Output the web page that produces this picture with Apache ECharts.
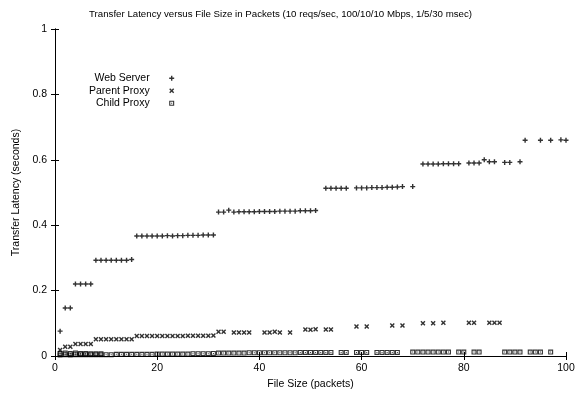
<!DOCTYPE html>
<html>
<head>
<meta charset="utf-8">
<title>Transfer Latency versus File Size</title>
<script src="https://cdn.jsdelivr.net/npm/echarts@6/dist/echarts.min.js"></script>
<style>
  html, body { margin: 0; padding: 0; background: #fff; }
  #chart { width: 580px; height: 401px; }
</style>
</head>
<body>
<div id="chart"></div>
<script>
// Transfer latency (seconds) against file size (packets), one array pair per series.
const webServerSize = [1, 2, 3, 4, 5, 6, 7, 8, 9, 10, 11, 12, 13, 14, 15,
  16, 17, 18, 19, 20, 21, 22, 23, 24, 25, 26, 27, 28, 29, 30, 31,
  32, 33, 34, 35, 36, 37, 38, 39, 40, 41, 42, 43, 44, 45, 46, 47, 48, 49, 50, 51,
  53, 54, 55, 56, 57, 59, 60, 61, 62, 63, 64, 65, 66, 67, 68, 70,
  72, 73, 74, 75, 76, 77, 78, 79, 81, 82, 83, 84, 85, 86, 88, 89, 91,
  92, 95, 97, 99, 100];
const webServerLatency = [0.076, 0.147, 0.147, 0.22, 0.22, 0.22, 0.22,
  0.293, 0.293, 0.293, 0.293, 0.293, 0.293, 0.293, 0.295,
  0.367, 0.367, 0.367, 0.367, 0.367, 0.367, 0.368, 0.367, 0.368, 0.368, 0.369, 0.369, 0.369, 0.37, 0.37, 0.37,
  0.44, 0.44, 0.446, 0.44, 0.441, 0.441, 0.441, 0.441, 0.442, 0.442, 0.442, 0.442, 0.443, 0.443, 0.443, 0.443, 0.444, 0.444, 0.444, 0.445,
  0.513, 0.513, 0.513, 0.513, 0.513, 0.514, 0.514, 0.514, 0.515, 0.515, 0.515, 0.516, 0.516, 0.517, 0.518, 0.518,
  0.587, 0.587, 0.587, 0.587, 0.588, 0.588, 0.588, 0.588, 0.59, 0.59, 0.59, 0.6, 0.594, 0.594, 0.592, 0.592, 0.594,
  0.66, 0.66, 0.66, 0.661, 0.66];

const parentProxySize = [1, 2, 3, 4, 5, 6, 7, 8, 9, 10, 11, 12, 13, 14, 15,
  16, 17, 18, 19, 20, 21, 22, 23, 24, 25, 26, 27, 28, 29, 30, 31,
  32, 33, 35, 36, 37, 38, 41, 42, 43, 44, 46, 49, 50, 51, 53, 54,
  59, 61, 66, 68, 72, 74, 76, 81, 82, 85, 86, 87];
const parentProxyLatency = [0.018, 0.028, 0.028, 0.037, 0.037, 0.037, 0.037,
  0.051, 0.051, 0.051, 0.051, 0.051, 0.051, 0.051, 0.051,
  0.061, 0.061, 0.061, 0.061, 0.061, 0.061, 0.061, 0.061, 0.061, 0.061, 0.062, 0.062, 0.062, 0.062, 0.062, 0.063,
  0.074, 0.074, 0.072, 0.072, 0.072, 0.072, 0.072, 0.072, 0.074, 0.072, 0.072, 0.081, 0.08, 0.082, 0.081, 0.081,
  0.09, 0.09, 0.093, 0.093, 0.1, 0.1, 0.102, 0.102, 0.102, 0.102, 0.102, 0.102];

// Small files were sampled twice, so sizes 1-9 appear with two latencies each.
const childProxySize = [1, 1, 2, 2, 3, 3, 4, 4, 5, 5, 6, 6, 7, 7, 8, 8, 9, 9, 10, 11, 12, 13, 14, 15,
  16, 17, 18, 19, 20, 21, 22, 23, 24, 25, 26, 27, 28, 29, 30, 31,
  32, 33, 34, 35, 36, 37, 38, 39, 40, 41, 42, 43, 44, 45, 46, 47, 48, 49, 50, 51, 52, 53, 54,
  56, 57, 59, 60, 61, 63, 64, 65, 66, 67, 70, 71, 72, 73, 74, 75, 76, 77,
  79, 80, 82, 83, 88, 89, 90, 91, 93, 94, 95, 97];
const childProxyLatency = [0.003, 0.008, 0.004, 0.009, 0.003, 0.008, 0.004, 0.009, 0.004, 0.008,
  0.004, 0.008, 0.004, 0.007, 0.004, 0.007, 0.004, 0.007, 0.004, 0.004, 0.005, 0.005, 0.005, 0.005,
  0.005, 0.005, 0.005, 0.005, 0.006, 0.006, 0.006, 0.006, 0.006, 0.006, 0.006, 0.007, 0.007, 0.007, 0.007, 0.008,
  0.009, 0.009, 0.009, 0.009, 0.009, 0.009, 0.01, 0.01, 0.01, 0.01, 0.01, 0.01, 0.01, 0.01, 0.01, 0.01, 0.011, 0.011, 0.011, 0.011, 0.011, 0.011, 0.011,
  0.011, 0.011, 0.011, 0.011, 0.011, 0.011, 0.011, 0.011, 0.011, 0.011, 0.012, 0.012, 0.012, 0.012, 0.012, 0.012, 0.012, 0.012,
  0.012, 0.012, 0.012, 0.012, 0.012, 0.012, 0.012, 0.012, 0.012, 0.012, 0.012, 0.012];

const xTicks = [0, 20, 40, 60, 80, 100];
const yTicks = [0, 0.2, 0.4, 0.6, 0.8, 1];

// Point symbols: plus, diagonal cross, boxed dot.
const PLUS = 'path://M1.8,0H3.2V1.8H5V3.2H3.2V5H1.8V3.2H0V1.8H1.8Z';
const CROSS = 'path://M0,1L1,0L2.5,1.5L4,0L5,1L3.5,2.5L5,4L4,5L2.5,3.5L1,5L0,4L1.5,2.5Z';
const BOXDOT = 'path://M0,0H5V5H0Z M1.1,1.1V3.9H3.9V1.1Z M2,2H3V3H2Z';

const FONT = "'Liberation Sans', Arial, Helvetica, sans-serif";
const INK = '#000';
const LABEL_SIZE = 10.5;

function pairs(xs, ys) {
  return xs.map((x, i) => [x, ys[i]]);
}

const chart = echarts.init(document.getElementById('chart'), null, { renderer: 'canvas' });

const baseX = {
  type: 'value', min: xTicks[0], max: xTicks[xTicks.length - 1], interval: xTicks[1] - xTicks[0],
  splitLine: { show: false },
  axisLine: { show: true, lineStyle: { color: INK, width: 1 } },
  axisTick: { show: true, inside: true, length: 4, lineStyle: { color: INK } }
};
const baseY = {
  type: 'value', min: yTicks[0], max: yTicks[yTicks.length - 1], interval: yTicks[1] - yTicks[0],
  splitLine: { show: false },
  axisLine: { show: true, lineStyle: { color: INK, width: 1 } },
  axisTick: { show: true, inside: true, length: 4, lineStyle: { color: INK } }
};

chart.setOption({
  animation: false,
  backgroundColor: '#fff',
  textStyle: { fontFamily: FONT },
  title: {
    text: 'Transfer Latency versus File Size in Packets (10 reqs/sec, 100/10/10 Mbps, 1/5/30 msec)',
    left: 84, top: 4,
    textStyle: { fontFamily: FONT, fontSize: 9.7, fontWeight: 'normal', color: INK }
  },
  grid: { left: 55, right: 14, top: 29, bottom: 45, show: false },
  legend: {
    orient: 'vertical', left: 84, top: 67, align: 'right',
    itemWidth: 34, itemHeight: 5, itemGap: 0,
    symbolKeepAspect: true,
    textStyle: { fontFamily: FONT, fontSize: LABEL_SIZE, color: INK, lineHeight: 12.5 },
    data: [
      { name: 'Web Server', icon: PLUS },
      { name: 'Parent Proxy', icon: CROSS },
      { name: 'Child Proxy', icon: BOXDOT }
    ]
  },
  xAxis: [
    Object.assign({}, baseX, {
      position: 'bottom',
      name: 'File Size (packets)', nameLocation: 'middle', nameGap: 22,
      nameTextStyle: { fontFamily: FONT, fontSize: LABEL_SIZE, color: INK },
      axisLabel: { show: true, margin: 7, fontFamily: FONT, fontSize: LABEL_SIZE, color: INK }
    }),
    Object.assign({}, baseX, { position: 'top', axisLabel: { show: false } })
  ],
  yAxis: [
    Object.assign({}, baseY, {
      position: 'left',
      name: 'Transfer Latency (seconds)', nameLocation: 'middle', nameGap: 30,
      nameTextStyle: { fontFamily: FONT, fontSize: LABEL_SIZE, color: INK },
      axisLabel: { show: true, margin: 8, fontFamily: FONT, fontSize: LABEL_SIZE, color: INK }
    }),
    Object.assign({}, baseY, { position: 'right', axisLabel: { show: false } })
  ],
  series: [
    {
      name: 'Web Server', type: 'scatter', symbol: PLUS, symbolSize: 5,
      itemStyle: { color: INK }, data: pairs(webServerSize, webServerLatency)
    },
    {
      name: 'Parent Proxy', type: 'scatter', symbol: CROSS, symbolSize: 5,
      itemStyle: { color: INK }, data: pairs(parentProxySize, parentProxyLatency)
    },
    {
      name: 'Child Proxy', type: 'scatter', symbol: BOXDOT, symbolSize: 5,
      itemStyle: { color: INK }, data: pairs(childProxySize, childProxyLatency)
    }
  ]
});
</script>
</body>
</html>
